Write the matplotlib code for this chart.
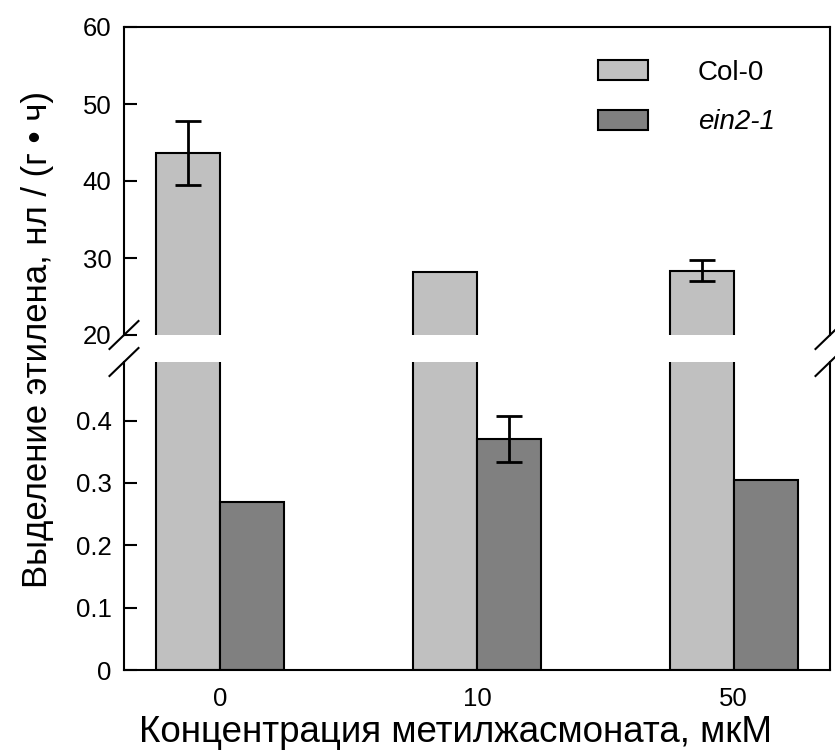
import numpy as np
import matplotlib.pyplot as plt
from matplotlib.patches import Patch

plt.rcParams['font.family'] = ['Liberation Sans', 'DejaVu Sans']

# data
groups = ['0', '10', '50']
col0 = [43.6, 28.2, 28.3]
col0_err_lo = [4.1, 0.0, 1.3]
col0_err_hi = [4.2, 0.0, 1.4]
ein2 = [0.27, 0.37, 0.305]
ein2_err = [0.0, 0.037, 0.0]

x = np.arange(len(groups))
w = 0.25
c_col0 = '#c0c0c0'
c_ein2 = '#808080'

fig = plt.figure(figsize=(8.35, 7.54), dpi=100)
L, R = 124 / 835, 830 / 835
ax_top = fig.add_axes([L, 1 - 335 / 754, R - L, 308 / 754])
ax_bot = fig.add_axes([L, 1 - 670 / 754, R - L, 308 / 754])

for ax in (ax_top, ax_bot):
    ax.bar(x - w / 2, col0, w, color=c_col0, edgecolor='black', linewidth=1.5, zorder=2)
    ax.bar(x + w / 2, ein2, w, color=c_ein2, edgecolor='black', linewidth=1.5, zorder=2)
    ax.set_xlim(-0.375, 2.375)
    for s in ax.spines.values():
        s.set_linewidth(1.5)
    ax.tick_params(axis='y', direction='in', length=9, width=1.5, labelsize=18.5, pad=9)

# error bars only where the reference shows them
lo = np.array(col0_err_lo)
hi = np.array(col0_err_hi)
m = (lo + hi) > 0
ax_top.errorbar(x[m] - w / 2, np.array(col0)[m], yerr=[lo[m], hi[m]], fmt='none',
                ecolor='black', elinewidth=2, capsize=9.5, capthick=2, zorder=3)
e = np.array(ein2_err)
m2 = e > 0
ax_bot.errorbar(x[m2] + w / 2, np.array(ein2)[m2], yerr=e[m2], fmt='none',
                ecolor='black', elinewidth=2, capsize=9.5, capthick=2, zorder=3)

ax_top.set_ylim(20, 60)
ax_top.set_yticks([20, 30, 40, 50, 60])
ax_top.spines['bottom'].set_visible(False)
ax_top.tick_params(axis='x', bottom=False, labelbottom=False)

ax_bot.set_ylim(0, 0.494)
ax_bot.set_yticks([0, 0.1, 0.2, 0.3, 0.4])
ax_bot.set_yticklabels(['0', '0.1', '0.2', '0.3', '0.4'])
ax_bot.spines['top'].set_visible(False)
ax_bot.set_xticks(x)
ax_bot.set_xticklabels(groups)
ax_bot.tick_params(axis='x', length=0, labelsize=18.5, pad=12)

# break marks
dx, dy = 14.5 / 706, 14 / 308
for ax, yy in ((ax_top, 0), (ax_bot, 1)):
    for xx in (0, 1):
        ax.plot([xx - dx, xx + dx], [yy - dy, yy + dy], transform=ax.transAxes,
                color='black', lw=1.5, clip_on=False)

ax_bot.set_xlabel('Концентрация метилжасмоната, мкМ', fontsize=26.5, labelpad=3)
ax_bot.xaxis.set_label_coords(0.469, -0.145)
fig.text(0.045, 0.55, 'Выделение этилена, нл / (г • ч)', rotation=90,
         fontsize=25, ha='center', va='center')

handles = [Patch(facecolor=c_col0, edgecolor='black', linewidth=1.5),
           Patch(facecolor=c_ein2, edgecolor='black', linewidth=1.5)]
leg = ax_top.legend(handles, ['Col-0', 'ein2-1'], loc='upper right',
                    bbox_to_anchor=(0.957, 0.975), frameon=False, fontsize=20,
                    handlelength=1.8, handleheight=0.72, handletextpad=1.8,
                    labelspacing=0.85)
leg.get_texts()[1].set_style('italic')

fig.savefig('out.png', dpi=100)
